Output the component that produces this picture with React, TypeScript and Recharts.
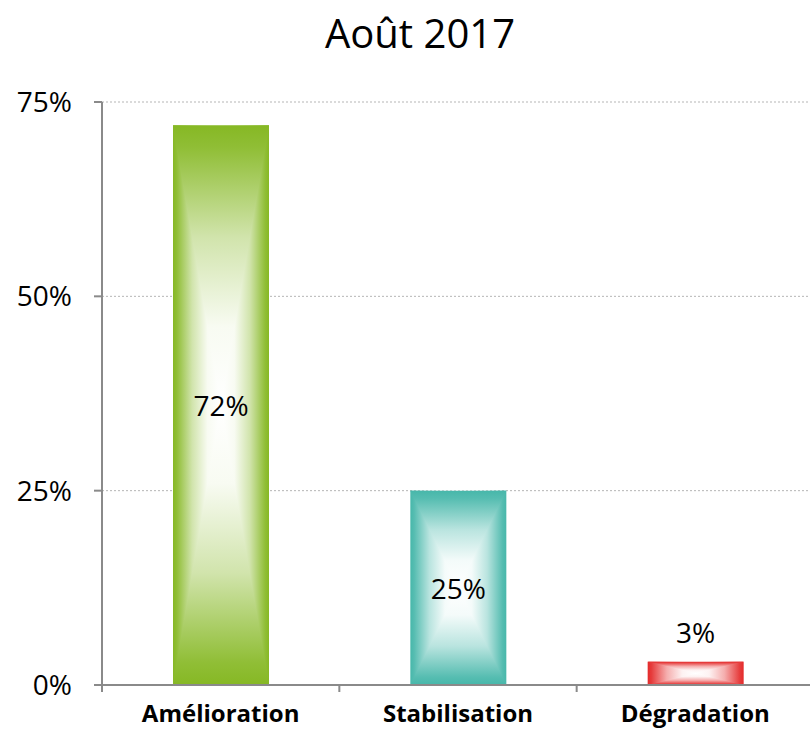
import React from "react";
import { BarChart, Bar, XAxis, YAxis, CartesianGrid, LabelList } from "recharts";

const categories = ["Amélioration", "Stabilisation", "Dégradation"];
const values = [72, 25, 3];
const barColors = ["#86b824", "#47b7aa", "#e42b2b"];
const yTicks = [0, 25, 50, 75];

const data = categories.map((name, i) => ({ name, value: values[i] }));

const FONT = "'Open Sans', 'DejaVu Sans', sans-serif";
const AXIS = "#8a8a8a";

// share of the bar colour from edge (0) to centre (1)
const fade = [
  [0, 1],
  [0.08, 0.92],
  [0.4, 0.38],
  [0.72, 0.06],
  [1, 0],
];

// mix a hex colour with white
function tint(hex: string, a: number) {
  const n = parseInt(hex.slice(1), 16);
  const ch = [(n >> 16) & 255, (n >> 8) & 255, n & 255].map((c) => Math.round(c * a + 255 * (1 - a)));
  return `rgb(${ch.join(",")})`;
}

function GradBar(props: any) {
  const { x, y, width: w, height: h, index } = props;
  if (!w || !h) return null;
  const color = barColors[index % barColors.length];
  const cx = x + w / 2;
  const cy = y + h / 2;
  const id = `g${index}`;
  const half = fade.map(([o, a]) => <stop key={o} offset={o} stopColor={tint(color, a)} />);
  const full = [
    ...fade.map(([o, a]) => <stop key={`a${o}`} offset={o / 2} stopColor={tint(color, a)} />),
    ...fade
      .slice()
      .reverse()
      .map(([o, a]) => <stop key={`b${o}`} offset={1 - o / 2} stopColor={tint(color, a)} />),
  ];
  return (
    <g>
      <defs>
        <linearGradient id={`${id}h`} gradientUnits="userSpaceOnUse" x1={x} y1={cy} x2={x + w} y2={cy}>{full}</linearGradient>
        <linearGradient id={`${id}t`} gradientUnits="userSpaceOnUse" x1={cx} y1={y} x2={cx} y2={cy}>{half}</linearGradient>
        <linearGradient id={`${id}b`} gradientUnits="userSpaceOnUse" x1={cx} y1={y + h} x2={cx} y2={cy}>{half}</linearGradient>
      </defs>
      <rect x={x} y={y} width={w} height={h} fill={`url(#${id}h)`} />
      <path d={`M${x},${y}L${x + w},${y}L${cx},${cy}Z`} fill={`url(#${id}t)`} />
      <path d={`M${x},${y + h}L${x + w},${y + h}L${cx},${cy}Z`} fill={`url(#${id}b)`} />
    </g>
  );
}

function ValueLabel(props: any) {
  const { x, y, width, height, value } = props;
  const cx = x + width / 2;
  const inside = value >= 10;
  const ty = inside ? y + height / 2 : y - 30;
  return (
    <text x={cx} y={ty} textAnchor="middle" dominantBaseline="central" fontFamily={FONT} fontSize={28} fill="#000">
      {`${value}%`}
    </text>
  );
}

function CatTick(props: any) {
  const { x, y, payload, index } = props;
  const off = payload && payload.offset != null ? payload.offset : 118.67;
  return (
    <g>
      <line x1={x - off} y1={y} x2={x - off} y2={y + 7} stroke={AXIS} strokeWidth={2} />
      {index === categories.length - 1 && (
        <line x1={x + off} y1={y} x2={x + off} y2={y + 7} stroke={AXIS} strokeWidth={2} />
      )}
      <text x={x} y={y + 37} textAnchor="middle" fontFamily={FONT} fontWeight={700} fontSize={24} fill="#000">
        {payload.value}
      </text>
    </g>
  );
}

export default function App() {
  return (
    <div style={{ position: "absolute", left: 0, top: 0, width: 810, height: 730, overflow: "hidden", background: "#fff" }}>
      <div
        style={{
          position: "absolute",
          top: 13,
          left: 0,
          width: 840,
          textAlign: "center",
          fontFamily: FONT,
          fontSize: 40,
          lineHeight: "40px",
          color: "#000",
        }}
      >
        Août 2017
      </div>
      <BarChart width={830} height={730} data={data} margin={{ top: 102, right: 16, bottom: 0, left: 0 }}>
        <CartesianGrid vertical={false} stroke="#b5b5b5" strokeDasharray="2 2" />
        <XAxis
          dataKey="name"
          height={45}
          axisLine={{ stroke: AXIS, strokeWidth: 2 }}
          tickLine={false}
          tickSize={0}
          tickMargin={0}
          interval={0}
          tick={<CatTick />}
        />
        <YAxis
          width={102}
          domain={[0, 75]}
          ticks={yTicks}
          tickFormatter={(v: number) => `${v}%`}
          axisLine={{ stroke: AXIS, strokeWidth: 2 }}
          tickLine={{ stroke: AXIS, strokeWidth: 2 }}
          tickSize={8}
          tickMargin={22}
          tick={{ fontFamily: FONT, fontSize: 28, fill: "#000" }}
        />
        <Bar dataKey="value" barSize={96} isAnimationActive={false} shape={(p: any) => <GradBar {...p} />}>
          <LabelList dataKey="value" content={<ValueLabel />} />
        </Bar>
      </BarChart>
    </div>
  );
}
